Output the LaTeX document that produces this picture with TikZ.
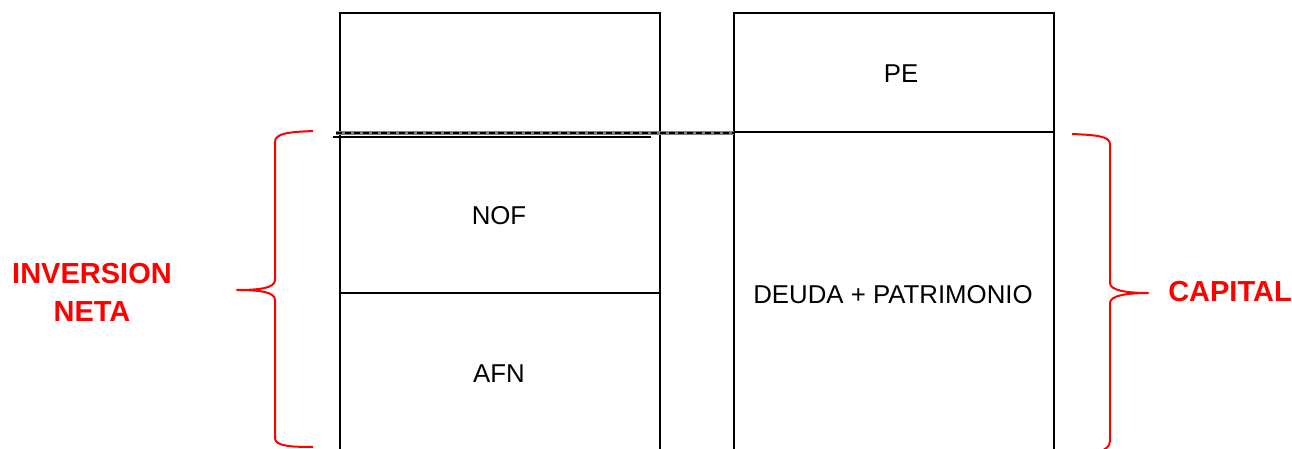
\documentclass[tikz,border=0pt]{standalone}
\usepackage{fontspec}
\setmainfont{Liberation Sans}
\begin{document}
\begin{tikzpicture}[x=0.5pt,y=-0.5pt,
  box/.style={draw=black,line width=1pt},
  sep/.style={draw=black,line width=1pt},
  lbl/.style={font=\fontsize{12.9pt}{15pt}\selectfont,text=black},
  red lbl/.style={font=\fontsize{14.5pt}{19pt}\selectfont\bfseries,text=red,align=center},
  brace/.style={draw=red,line width=1pt,line join=round}]
\clip (0,0) rectangle (1292,449);
\fill[white] (0,0) rectangle (1292,449);
% boxes
\draw[box] (340,460) -- (340,13) -- (660,13) -- (660,460);
\draw[box] (734,460) -- (734,13) -- (1054,13) -- (1054,460);
% separators
\coordinate (pel) at (734,132);
\coordinate (per) at (1054,132);
\draw[sep] (pel) -- (per);
\coordinate (nl) at (340,293);
\coordinate (nr) at (660,293);
\draw[sep] (nl) -- (nr);
\coordinate (sl) at (333,137);
\coordinate (sr) at (651,137);
\draw[sep] (sl) -- (sr);
\coordinate (dl) at (336,133);
\coordinate (dr) at (734,133);
\draw[draw=gray,line width=1.8pt] (dl) -- (dr);
\draw[draw=black,line width=1pt,dash pattern=on 3pt off 1.5pt] (dl) -- (dr);
% texts
\node[lbl] (pe) at (901,74) {PE};
\node[lbl] (nof) at (499,216) {NOF};
\node[lbl] (afn) at (499,374) {AFN};
\node[lbl] (dp) at (893,295) {DEUDA + PATRIMONIO};
\node[red lbl] (inv) at (92,292) {INVERSION\\NETA};
\node[red lbl] (cap) at (1230,292) {CAPITAL};
% braces
\draw[brace] (313,131) .. controls (290,132) and (275,133) .. (275,142)
  -- (275,280) .. controls (275,288) and (260,290) .. (237,290)
  .. controls (260,290) and (275,292) .. (275,300)
  -- (275,438) .. controls (275,446) and (290,447) .. (313,447);
\draw[brace] (1072,134) .. controls (1095,135) and (1110,136) .. (1110,144)
  -- (1110,283) .. controls (1110,290) and (1125,293) .. (1148,293)
  .. controls (1125,293) and (1110,296) .. (1110,303)
  -- (1110,441) .. controls (1110,447) and (1105,449) .. (1100,452);
\end{tikzpicture}
\end{document}
